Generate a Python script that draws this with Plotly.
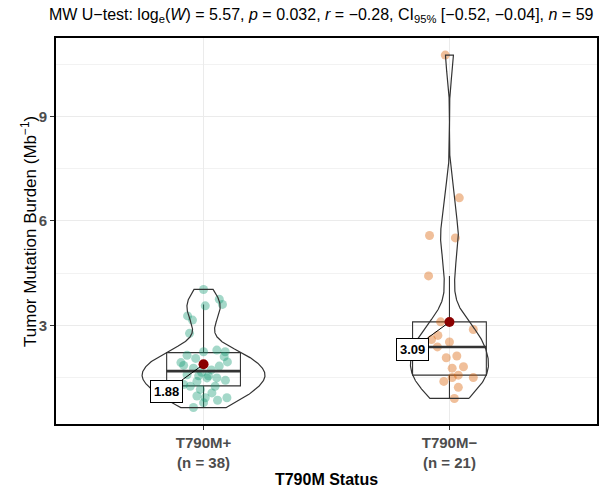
import numpy as np
import plotly.graph_objects as go

# ---- data ----
categories = ["T790M+", "T790M−"]
tick_labels = ["T790M+<br>(n = 38)", "T790M−<br>(n = 21)"]

tmb_pos = [4.03, 3.75, 3.60, 3.56, 3.27, 3.15, 2.77, 2.14, 2.24, 2.29,
           2.24, 2.10, 1.93, 1.83, 1.77, 1.58, 1.55, 1.49, 1.49, 1.39,
           1.25, 1.25, 1.16, 1.06, 0.92, 0.92, 0.97, 0.78, 0.64,
           1.72, 1.85, 1.95, 2.05, 0.85, 1.30, 1.42, 1.55, 1.65]
# horizontal jitter (category units)
jit_pos = [0.0, 0.064, 0.077, 0.007, -0.065, -0.045, -0.057, -0.067, 0.0, 0.054,
           0.088, 0.084, -0.092, 0.064, -0.041, -0.067, -0.020, 0.014, 0.054, -0.027,
           -0.054, 0.047, -0.013, 0.034, 0.095, 0.007, -0.027, 0.0, -0.041,
           0.032, -0.081, 0.097, -0.032, 0.057, -0.081, 0.089, 0.020, -0.008]

tmb_neg = [10.76, 6.66, 5.58, 5.51, 4.42, 3.10, 2.88, 2.71, 2.52, 2.07,
           2.12, 1.77, 1.81, 1.39, 1.50, 1.57, 1.50, 1.22, 0.90, 2.38, 2.59]
jit_neg = [-0.017, 0.040, -0.081, 0.024, -0.085, -0.036, 0.097, -0.047, 0.0, -0.013,
           0.030, 0.011, 0.057, -0.023, 0.011, 0.036, 0.097, 0.036, 0.020, -0.049, -0.073]

groups = [tmb_pos, tmb_neg]
jitters = [jit_pos, jit_neg]
pt_colors = ["rgba(27,158,119,0.4)", "rgba(217,95,2,0.4)"]

title_html = ("MW U−test: log<sub>e</sub>(<i>W</i>) = 5.57, <i>p</i> = 0.032, "
              "<i>r</i> = −0.28, CI<sub>95%</sub> [−0.52, −0.04], <i>n</i> = 59")
y_title = "Tumor Mutation Burden (Mb<sup>−1</sup>)"
x_title = "T790M Status"

FONT = "Liberation Sans, Arial, Helvetica, sans-serif"


def bw_nrd0(v):
    v = np.asarray(v)
    sd = np.std(v, ddof=1)
    iqr = np.subtract(*np.percentile(v, [75, 25]))
    lo = min(sd, iqr / 1.34)
    return 0.9 * lo * len(v) ** (-0.2)


def kde(v, grid):
    v = np.asarray(v)
    bw = bw_nrd0(v)
    z = (grid[:, None] - v[None, :]) / bw
    return np.exp(-0.5 * z ** 2).sum(axis=1) / (len(v) * bw * np.sqrt(2 * np.pi))


grids, dens = [], []
for g in groups:
    gr = np.linspace(min(g), max(g), 512)
    grids.append(gr)
    dens.append(kde(g, gr))
gmax = max(d.max() for d in dens)

fig = go.Figure()

# jittered points
for i, (g, j) in enumerate(zip(groups, jitters)):
    fig.add_trace(go.Scatter(
        x=[i + 1 + jj for jj in j], y=g, mode="markers",
        marker=dict(size=9, color=pt_colors[i], line=dict(width=0)),
        showlegend=False, hoverinfo="skip"))

# violins (ggplot scale = "area", width = 0.5)
for i, (gr, d) in enumerate(zip(grids, dens)):
    hw = 0.25 * d / gmax
    xs = np.concatenate([i + 1 + hw, (i + 1 - hw)[::-1], [i + 1 + hw[0]]])
    ys = np.concatenate([gr, gr[::-1], [gr[0]]])
    fig.add_trace(go.Scatter(x=xs, y=ys, mode="lines",
                             line=dict(color="#333333", width=1.2),
                             showlegend=False, hoverinfo="skip"))

# boxplots (width 0.3, outliers hidden)
for i, g in enumerate(groups):
    v = np.asarray(g)
    q1, med, q3 = np.percentile(v, [25, 50, 75])
    iqr = q3 - q1
    upper = v[v <= q3 + 1.5 * iqr].max()
    lower = v[v >= q1 - 1.5 * iqr].min()
    fig.add_trace(go.Box(x=[i + 1], q1=[q1], median=[med], q3=[q3],
                         lowerfence=[lower], upperfence=[upper],
                         width=0.3, whiskerwidth=0, boxpoints=False,
                         fillcolor="rgba(0,0,0,0)",
                         line=dict(color="#333333", width=1.1),
                         showlegend=False, hoverinfo="skip"))
    fig.add_trace(go.Scatter(x=[i + 1 - 0.15, i + 1 + 0.15], y=[med, med],
                             mode="lines", line=dict(color="#333333", width=2.6),
                             showlegend=False, hoverinfo="skip"))

# means + labels
for i, g in enumerate(groups):
    m = float(np.mean(g))
    fig.add_trace(go.Scatter(x=[i + 1], y=[m], mode="markers",
                             marker=dict(size=10, color="#8B0000"),
                             showlegend=False, hoverinfo="skip"))
    fig.add_annotation(x=i + 1, y=m, xref="x", yref="y",
                       text=f"<b>{m:.2f}</b>", showarrow=True, arrowhead=0,
                       arrowwidth=1, arrowcolor="black", standoff=4,
                       ax=-37, ay=27, bgcolor="white", bordercolor="black",
                       borderwidth=1, borderpad=3,
                       font=dict(family=FONT, size=13, color="black"))

# y axis title as annotation for exact placement
fig.add_annotation(x=-0.05, y=0.5, xref="paper", yref="paper",
                   text=y_title, showarrow=False, textangle=-90,
                   xanchor="center", yanchor="middle",
                   font=dict(family=FONT, size=17, color="black"))

fig.update_layout(
    width=606, height=493,
    margin=dict(l=56, r=7, t=38, b=63),
    paper_bgcolor="white", plot_bgcolor="white",
    font=dict(family=FONT, color="black"),
    title=dict(text=title_html, x=0.53, xref="container", xanchor="center",
               y=1 - 14 / 493, yref="container", yanchor="middle",
               font=dict(family=FONT, size=16, color="black")),
    showlegend=False,
)
fig.update_xaxes(
    range=[0.4, 2.6], tickvals=[1, 2], ticktext=[f"<b>{t}</b>" for t in tick_labels],
    tickfont=dict(family=FONT, size=15, color="#4D4D4D"),
    showgrid=True, gridcolor="#EBEBEB", gridwidth=1, zeroline=False,
    showline=True, mirror=True, linecolor="black", linewidth=2,
    ticks="outside", ticklen=4, tickcolor="#333333",
    title=dict(text=f"<b>{x_title}</b>", font=dict(family=FONT, size=16, color="black"),
               standoff=4),
)
fig.update_yaxes(
    range=[0.167, 11.25], tickvals=[3, 6, 9], ticktext=["<b>3</b>", "<b>6</b>", "<b>9</b>"],
    tickfont=dict(family=FONT, size=15, color="#4D4D4D"),
    showgrid=True, gridcolor="#EBEBEB", gridwidth=1, zeroline=False,
    minor=dict(tickvals=[1.5, 4.5, 7.5, 10.5], showgrid=True, gridcolor="#F2F2F2", gridwidth=1),
    showline=True, mirror=True, linecolor="black", linewidth=2,
    ticks="outside", ticklen=4, tickcolor="#333333",
)

fig.write_html("out.html")
